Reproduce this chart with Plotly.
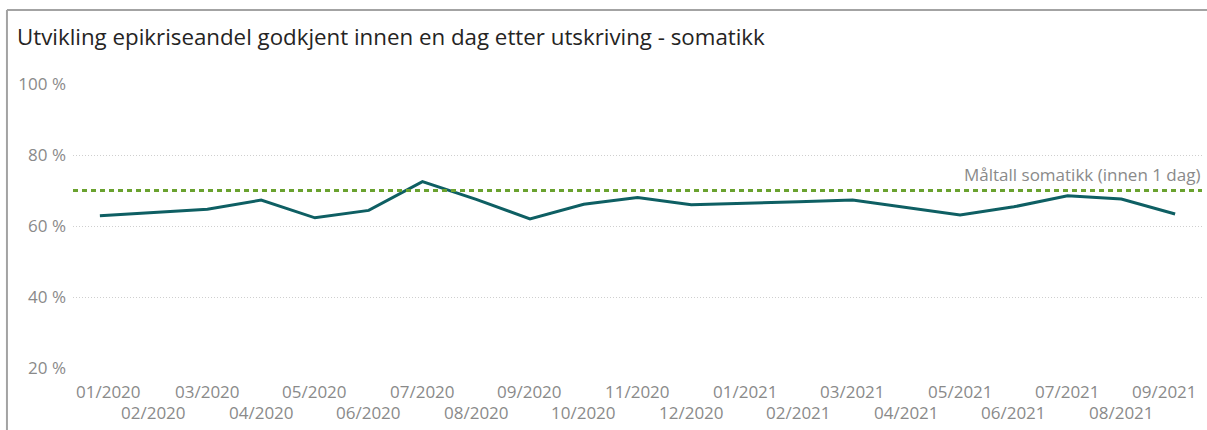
import plotly.graph_objects as go

months = ["01/2020", "02/2020", "03/2020", "04/2020", "05/2020", "06/2020", "07/2020",
          "08/2020", "09/2020", "10/2020", "11/2020", "12/2020", "01/2021", "02/2021",
          "03/2021", "04/2021", "05/2021", "06/2021", "07/2021", "08/2021", "09/2021"]
share = [62.9, 63.7, 64.7, 67.3, 62.3, 64.4, 72.5,
         67.5, 62.0, 66.1, 68.0, 66.0, 66.3, 66.8,
         67.3, 65.2, 63.1, 65.4, 68.5, 67.6, 63.4]
target = 70
target_label = "Måltall somatikk (innen 1 dag)"
y_ticks = [20, 40, 60, 80, 100]
y_ticktext = ["20 %", "40 %", "60 %", "80 %", "100 %"]
title = "Utvikling epikriseandel godkjent innen en dag etter utskriving - somatikk"

FONT = "Open Sans"
GREY = "#8a8a8a"

fig = go.Figure()
fig.add_trace(go.Scatter(
    x=months, y=share, mode="lines",
    line=dict(color="#0e5f63", width=3),
    hoverinfo="x+y",
))

# target line across the whole plot
fig.add_shape(type="line", xref="paper", x0=0, x1=1, yref="y", y0=target, y1=target,
              line=dict(color="#6aa22f", width=3, dash="5px,4px"), layer="above")
fig.add_annotation(text=target_label, xref="paper", x=1, xanchor="right", yref="y", y=target,
                   yanchor="bottom", yshift=3, showarrow=False,
                   font=dict(family=FONT, size=17, color=GREY))

# staggered month labels (Power BI style)
n = len(months)
for i, m in enumerate(months):
    xshift = 0
    if i == 0:
        xshift = 9
    elif i == n - 1:
        xshift = -11
    fig.add_annotation(text=m, xref="x", x=m, yref="paper", y=0, yanchor="middle",
                       yshift=-23 if i % 2 == 0 else -44, xshift=xshift, showarrow=False,
                       font=dict(family=FONT, size=17, color=GREY))

# frame around the visual
frame = dict(color="#a3a3a3", width=2)
fig.add_shape(type="line", xref="paper", yref="paper", x0=-0.0585, x1=1.01, y0=1.2606, y1=1.2606,
              line=frame, layer="above")
fig.add_shape(type="line", xref="paper", yref="paper", x0=-0.0585, x1=-0.0585, y0=1.2606, y1=-0.25,
              line=frame, layer="above")

fig.update_layout(
    width=1207, height=430,
    margin=dict(l=73, r=5, t=84, b=62),
    paper_bgcolor="white", plot_bgcolor="white",
    showlegend=False,
    font=dict(family=FONT, color=GREY),
    title=dict(text=title, x=17 / 1207, xref="container", xanchor="left", y=1 - 37 / 430,
               yanchor="middle", font=dict(family=FONT, size=22.3, color="#252423")),
    xaxis=dict(type="category", range=[-0.5, n - 0.5], showticklabels=False, showgrid=False,
               zeroline=False, showline=False, ticks=""),
    yaxis=dict(range=[20, 100], tickvals=y_ticks, ticktext=y_ticktext, showgrid=True,
               gridcolor="#cfcfcf", griddash="1px,2px", gridwidth=1, zeroline=False, showline=False,
               ticks="", ticklabelstandoff=6, automargin=False,
               tickfont=dict(family=FONT, size=17, color=GREY)),
)

fig.write_html("out.html", config={"displayModeBar": False},
               post_script="document.body.style.margin='0';")
